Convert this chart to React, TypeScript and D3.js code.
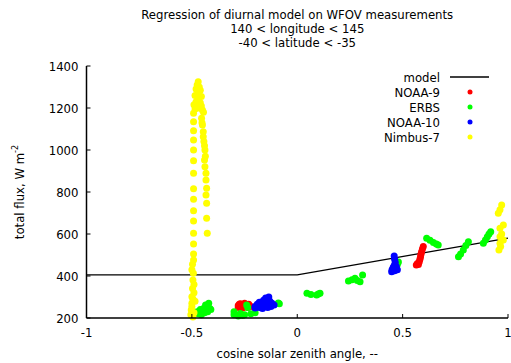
import React from "react";
import * as d3 from "d3";

const titleLines = [
  "Regression of diurnal model on WFOV measurements",
  "140 < longitude < 145",
  "-40 < latitude < -35",
];
const xTicks = [-1, -0.5, 0, 0.5, 1];
const yTicks = [200, 400, 600, 800, 1000, 1200, 1400];

const modelLine: [number, number][] = [
  [-1, 405],
  [0, 405],
  [1, 580],
];

const noaa9: [number, number][] = [
  [-0.28, 260], [-0.27, 268], [-0.26, 262], [-0.25, 270], [-0.24, 258], [-0.23, 265],
  [-0.28, 250], [-0.26, 248], [-0.22, 255], [-0.275, 266], [-0.235, 250],
  [0.598, 540], [0.594, 528], [0.59, 516], [0.587, 504], [0.585, 492], [0.582, 480],
  [0.579, 468], [0.57, 460], [0.565, 452], [0.575, 455],
];

const erbs: [number, number][] = [
  [-0.49, 225], [-0.5, 215], [-0.475, 230], [-0.46, 240], [-0.445, 245], [-0.43, 255],
  [-0.42, 270], [-0.415, 245], [-0.44, 225], [-0.455, 215], [-0.47, 220], [-0.425, 230],
  [-0.41, 240], [-0.435, 262],
  [-0.3, 215], [-0.28, 210], [-0.25, 215], [-0.22, 220], [-0.3, 230], [-0.27, 222],
  [-0.235, 250], [-0.24, 262], [-0.2, 225], [-0.26, 212],
  [-0.09, 271], [-0.085, 268],
  [0.046, 318], [0.065, 312], [0.092, 310], [0.108, 318], [0.1, 314],
  [0.243, 376], [0.26, 382], [0.274, 389], [0.298, 373], [0.31, 405], [0.285, 378],
  [0.48, 467], [0.475, 455],
  [0.614, 580], [0.63, 570], [0.646, 559], [0.66, 552], [0.669, 548],
  [0.765, 492], [0.775, 505], [0.788, 524], [0.8, 545], [0.812, 563],
  [0.883, 556], [0.893, 572], [0.902, 587], [0.91, 600], [0.918, 611],
];

const noaa10: [number, number][] = [
  [-0.2, 255], [-0.19, 265], [-0.18, 250], [-0.17, 270], [-0.16, 285], [-0.15, 295],
  [-0.14, 290], [-0.13, 280], [-0.12, 270], [-0.11, 262], [-0.15, 260], [-0.165, 245],
  [-0.14, 250], [-0.125, 255], [-0.18, 275], [-0.155, 275], [-0.2, 248], [-0.135, 300],
  [0.46, 495], [0.462, 480], [0.465, 465], [0.46, 450], [0.455, 440], [0.45, 430],
  [0.462, 425], [0.475, 430], [0.47, 445], [0.448, 420],
];

const nimbus7: [number, number][] = [
  [-0.47, 1325], [-0.475, 1310], [-0.465, 1300], [-0.48, 1290], [-0.46, 1285], [-0.47, 1270],
  [-0.485, 1260], [-0.455, 1255], [-0.47, 1245], [-0.48, 1230], [-0.46, 1225], [-0.49, 1215],
  [-0.455, 1210], [-0.47, 1200], [-0.485, 1195], [-0.45, 1190], [-0.445, 1180],
  [-0.492, 1175], [-0.492, 1135], [-0.492, 1092], [-0.492, 1048], [-0.492, 1000],
  [-0.492, 949], [-0.492, 889], [-0.492, 816], [-0.492, 765], [-0.492, 711], [-0.492, 662],
  [-0.492, 603], [-0.492, 552], [-0.492, 505], [-0.492, 476], [-0.497, 456], [-0.493, 413],
  [-0.495, 381], [-0.497, 341], [-0.5, 301], [-0.5, 270], [-0.503, 238],
  [-0.49, 320], [-0.495, 290], [-0.5, 255], [-0.49, 225], [-0.505, 215], [-0.495, 205],
  [-0.485, 280], [-0.49, 360], [-0.5, 430],
  [-0.454, 1151], [-0.45, 1119], [-0.446, 1087], [-0.446, 1063], [-0.443, 1040],
  [-0.438, 1000], [-0.44, 952], [-0.438, 920], [-0.433, 889], [-0.433, 857], [-0.43, 818],
  [-0.433, 786], [-0.43, 746], [-0.43, 675], [-0.427, 603], [-0.452, 1130], [-0.44, 1020],
  [-0.436, 970],
  [0.954, 699], [0.962, 715], [0.97, 738], [0.962, 627], [0.978, 643], [0.962, 587],
  [0.978, 571], [0.962, 556], [0.957, 524], [0.97, 600], [0.965, 540],
];

const seriesNames = ["NOAA-9", "ERBS", "NOAA-10", "Nimbus-7"];
const seriesData = [noaa9, erbs, noaa10, nimbus7];
const seriesColors = ["#ff0000", "#00ff00", "#0000ff", "#ffff00"];

const FONT = "'Liberation Sans Narrow', 'DejaVu Sans Condensed', 'Arial Narrow', sans-serif";

export default function App() {
  const W = 511, H = 363;
  const x = d3.scaleLinear().domain([-1, 1]).range([86.5, 508]);
  const y = d3.scaleLinear().domain([200, 1400]).range([318, 66]);
  const line = d3.line<[number, number]>().x((d) => x(d[0])).y((d) => y(d[1]));
  const cx = (x(-1) + x(1)) / 2;

  return (
    <svg width={W} height={H} style={{ position: "absolute", left: 0, top: 0, background: "#fff" }}
      fontFamily={FONT}>
      <rect width={W} height={H} fill="#fff" />
      {titleLines.map((t, i) => (
        <text key={i} x={cx} y={19 + i * 14} textAnchor="middle" fontSize={13} fill="#000">{t}</text>
      ))}
      <path d={line(modelLine) || ""} fill="none" stroke="#000" strokeWidth={1.3} />
      {seriesData.map((data, si) => (
        <g key={si} fill={seriesColors[si]}>
          {data.map((d, i) => (
            <circle key={i} cx={x(d[0])} cy={y(d[1])} r={3.5} />
          ))}
        </g>
      ))}
      <line x1={x(-1)} x2={x(-1)} y1={y(1400)} y2={y(200)} stroke="#000" strokeWidth={1.5} />
      <line x1={x(-1)} x2={x(1)} y1={y(200)} y2={y(200)} stroke="#000" strokeWidth={1.5} />
      {yTicks.map((t) => (
        <g key={t}>
          <line x1={x(-1)} x2={x(-1) + 4} y1={y(t)} y2={y(t)} stroke="#000" strokeWidth={1} />
          <text x={x(-1) - 8} y={y(t)} dy="0.35em" textAnchor="end" fontSize={13} fill="#000">{t}</text>
        </g>
      ))}
      {xTicks.map((t) => (
        <g key={t}>
          <line x1={x(t)} x2={x(t)} y1={y(200)} y2={y(200) - 4} stroke="#000" strokeWidth={1} />
          <text x={x(t)} y={y(200) + 19} textAnchor="middle" fontSize={13} fill="#000">{t}</text>
        </g>
      ))}
      <text x={cx} y={358} textAnchor="middle" fontSize={13} fill="#000">cosine solar zenith angle, --</text>
      <text transform={`translate(24, ${(y(200) + y(1400)) / 2}) rotate(-90)`} textAnchor="middle" fontSize={13} fill="#000">
        total flux, W m<tspan dy={-6} fontSize={9}>-2</tspan>
      </text>
      <text x={440} y={77} dy="0.35em" textAnchor="end" fontSize={13} fill="#000">model</text>
      <line x1={450} x2={489} y1={77} y2={77} stroke="#000" strokeWidth={1.3} />
      {seriesNames.map((n, i) => (
        <g key={n}>
          <text x={440} y={92 + i * 15} dy="0.35em" textAnchor="end" fontSize={13} fill="#000">{n}</text>
          <circle cx={470} cy={92 + i * 15} r={2.5} fill={seriesColors[i]} />
        </g>
      ))}
    </svg>
  );
}
